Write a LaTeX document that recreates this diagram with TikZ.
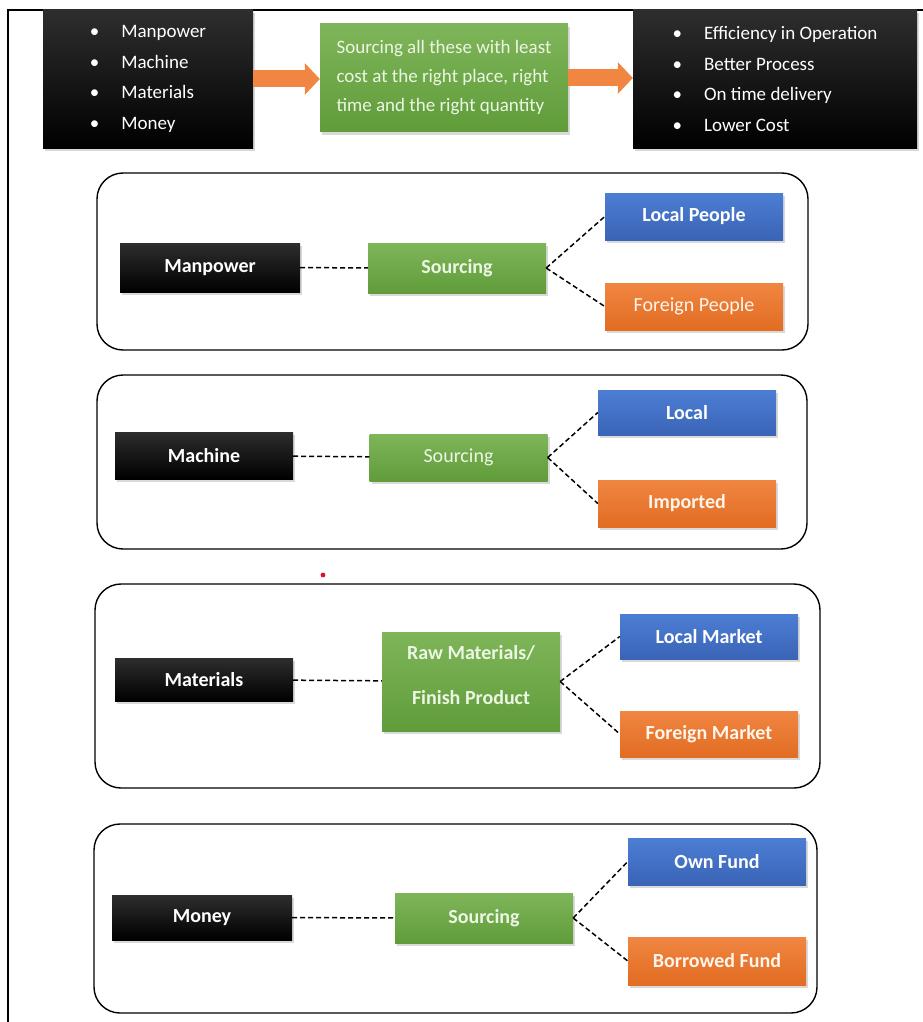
\documentclass[tikz,border=0pt]{standalone}
\usepackage{fontspec}
\setmainfont{Carlito}
\usetikzlibrary{positioning, arrows.meta, shadows}

\definecolor{srcgreen}{RGB}{112,173,71}
\definecolor{srcgreendark}{RGB}{96,156,58}
\definecolor{locblue}{RGB}{76,126,212}
\definecolor{locbluedark}{RGB}{58,100,182}
\definecolor{forange}{RGB}{240,134,66}
\definecolor{forangedark}{RGB}{226,108,34}
\definecolor{paletext}{RGB}{236,246,228}
\definecolor{dotred}{RGB}{220,20,40}

\begin{document}
\begin{tikzpicture}[
    x=1pt, y=-1pt,
    box/.style={inner sep=0pt, minimum width=178pt, minimum height=47pt,
        font=\fontsize{20}{24}\selectfont\bfseries,
        drop shadow={shadow xshift=2pt, shadow yshift=-3pt, opacity=0.3}},
    blackbox/.style={box, top color=black!82, middle color=black, bottom color=black, text=white},
    greenbox/.style={box, top color=srcgreen!90!white, bottom color=srcgreendark, text=paletext},
    bluebox/.style={box, top color=locblue, bottom color=locbluedark, text=white},
    orangebox/.style={box, top color=forange, bottom color=forangedark, text=white!92!orange},
    panel/.style={draw, line width=1.4pt, rounded corners=26pt, inner sep=0pt},
    link/.style={line width=1.5pt, dash pattern=on 5pt off 3pt},
    bigarrow/.style={draw=forange, line width=17pt, -{Triangle[length=15pt, width=31pt]}}
]
    \useasboundingbox (0,0) rectangle (923,1022);
    \draw[line width=1.5pt] (8,1022) -- (8,10) -- (923,10);

    % Top row: inputs, goal, outcomes.
    \node[blackbox, minimum width=210pt, minimum height=138pt, align=left,
          font=\fontsize{19}{30.5}\selectfont] (in1) at (148,79)
        {\textbullet\hspace{22pt}Manpower\\ \textbullet\hspace{22pt}Machine\\
         \textbullet\hspace{22pt}Materials\\ \textbullet\hspace{22pt}Money};
    \node[greenbox, minimum width=248pt, minimum height=108pt, align=left,
          font=\fontsize{19}{29}\selectfont] (goal) at (444,78)
        {Sourcing all these with least\\ cost at the right place, right\\ time and the right quantity};
    \node[blackbox, minimum width=284pt, minimum height=138pt, align=left,
          font=\fontsize{19}{30.5}\selectfont] (out1) at (775,79)
        {\textbullet\hspace{22pt}Efficiency in Operation\\ \textbullet\hspace{22pt}Better Process\\
         \textbullet\hspace{22pt}On time delivery\\ \textbullet\hspace{22pt}Lower Cost};
    \draw[bigarrow] (in1.east) -- (in1.east -| goal.west);
    \draw[bigarrow] (goal.east) -- (goal.east -| out1.west);

    % Manpower panel.
    \node[panel, minimum width=711pt, minimum height=177pt] (p1) at (452.5,261.5) {};
    \node[blackbox, minimum width=180pt, minimum height=49pt] (man) at (210,267.5) {Manpower};
    \node[greenbox, minimum height=50pt] (src1) at (457,268) {Sourcing};
    \node[bluebox] (lp) at (694,216.5) {Local People};
    \node[orangebox, font=\fontsize{20}{24}\selectfont] (fp) at (694,306.5) {Foreign People};
    \draw[link] (man) -- (src1);
    \draw[link] (src1.east) -- (lp.west);
    \draw[link] (src1.east) -- (fp.west);

    % Machine panel.
    \node[panel, minimum width=710pt, minimum height=174pt] (p2) at (452,462) {};
    \node[blackbox] (mac) at (204,455.5) {Machine};
    \node[greenbox, font=\fontsize{20}{24}\selectfont] (src2) at (458.5,457.5) {Sourcing};
    \node[bluebox, minimum height=45pt] (loc) at (687,412.5) {Local};
    \node[orangebox] (imp) at (687,503.5) {Imported};
    \draw[link] (mac) -- (src2);
    \draw[link] (src2.east) -- (loc.west);
    \draw[link] (src2.east) -- (imp.west);

    \fill[dotred] (323,575) circle (2.4pt);

    % Materials panel.
    \node[panel, minimum width=725pt, minimum height=204pt] (p3) at (457.5,686) {};
    \node[blackbox, minimum height=43pt] (mat) at (204,679.5) {Materials};
    \node[greenbox, minimum height=99pt] (raw) at (471,681.5)
        {\raisebox{-1pt}[0pt][0pt]{\begin{tabular}{@{}c@{}}Raw Materials/\\[21pt]Finish Product\end{tabular}}};
    \node[bluebox, minimum height=45pt] (lm) at (709,636.5) {Local Market};
    \node[orangebox, minimum height=46pt] (fm) at (709,734) {Foreign Market};
    \draw[link] (mat) -- (raw);
    \draw[link] (raw.east) -- (lm.west);
    \draw[link] (raw.east) -- (fm.west);

    % Money panel.
    \node[panel, minimum width=723pt, minimum height=189pt] (p4) at (455.5,918.5) {};
    \node[blackbox, minimum width=180pt, minimum height=45pt] (mon) at (202,917.5) {Money};
    \node[greenbox, minimum height=50pt] (src4) at (484,918) {Sourcing};
    \node[bluebox] (own) at (717,861.5) {Own Fund};
    \node[orangebox, minimum height=48pt] (bor) at (717,961) {Borrowed Fund};
    \draw[link] (mon) -- (src4);
    \draw[link] (src4.east) -- (own.west);
    \draw[link] (src4.east) -- (bor.west);
\end{tikzpicture}
\end{document}
